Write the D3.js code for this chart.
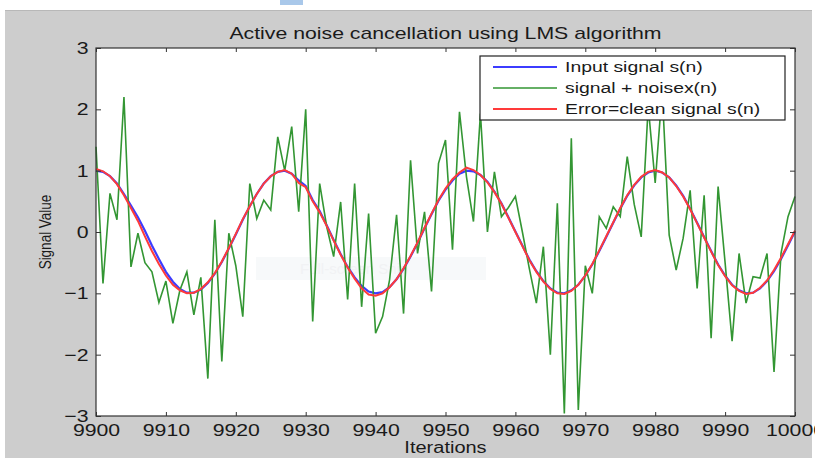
<!DOCTYPE html>
<html lang="en">
<head>
<meta charset="UTF-8">
<title>Active noise cancellation using LMS algorithm</title>
<script src="https://d3js.org/d3.v7.min.js"></script>
<style>
    body { margin: 0; background: #fff; }
    svg text { font-family: "Liberation Sans", Arial, sans-serif; fill: #1a1a1a; }
    .axis path { display: none; }
    .axis line { stroke: #333; }
</style>
</head>
<body>
<svg id="chart" width="815" height="458"></svg>
<script>
// data (one sample per iteration, 9900..10000)
var iterStart = 9900
var xTicks = [9900, 9910, 9920, 9930, 9940, 9950, 9960, 9970, 9980, 9990, 10000]
var yTicks = [-3, -2, -1, 0, 1, 2, 3]
var seriesNames = ['Input signal s(n)', 'signal + noisex(n)', 'Error=clean signal s(n)']

var inputSignal = [1.00, 0.98, 0.91, 0.79, 0.62, 0.43, 0.24, 0.02, -0.22, -0.44,
    -0.65, -0.81, -0.93, -0.99, -0.99, -0.94, -0.83, -0.68, -0.49, -0.27,
    -0.04, 0.20, 0.42, 0.62, 0.79, 0.91, 0.98, 1.00, 0.95, 0.84,
    0.75, 0.52, 0.34, 0.11, -0.13, -0.36, -0.57, -0.74, -0.88, -0.97,
    -1.00, -0.98, -0.90, -0.77, -0.60, -0.40, -0.18, 0.06, 0.29, 0.51,
    0.69, 0.84, 0.95, 1.00, 0.99, 0.93, 0.82, 0.66, 0.47, 0.24,
    0.01, -0.22, -0.45, -0.64, -0.80, -0.92, -0.99, -1.00, -0.95, -0.86,
    -0.71, -0.53, -0.31, -0.08, 0.15, 0.38, 0.59, 0.76, 0.89, 0.97,
    1.00, 0.97, 0.89, 0.76, 0.59, 0.38, 0.15, -0.08, -0.31, -0.53,
    -0.71, -0.86, -0.95, -1.00, -0.99, -0.92, -0.80, -0.64, -0.44, -0.22,
    0.01]

var noisySignal = [1.39, -0.84, 0.63, 0.20, 2.20, -0.57, -0.02, -0.50, -0.65, -1.15,
    -0.80, -1.49, -0.95, -0.65, -1.35, -0.74, -2.39, 0.20, -2.11, -0.02,
    -0.55, -1.38, 0.79, 0.22, 0.52, 0.36, 1.55, 1.00, 1.72, 0.33,
    2.00, -1.46, 0.79, 0.09, -0.40, 0.49, -1.10, 0.79, -1.22, 0.30,
    -1.65, -1.38, -0.78, 0.28, -1.33, 1.17, -0.35, 0.33, -0.97, 1.12,
    1.50, -0.29, 1.96, 0.90, 0.17, 1.93, 0.00, 0.98, 0.25, 0.40,
    0.58, 0.00, -0.60, -1.16, -0.24, -2.00, 0.47, -2.96, 1.53, -2.90,
    -0.55, -1.00, 0.25, 0.06, 0.41, 0.25, 1.23, 0.45, -0.08, 2.05,
    0.80, 2.30, -0.05, -0.62, -0.10, 0.68, -0.92, 0.60, -1.73, 0.74,
    -0.50, -1.78, -0.35, -1.16, -0.73, -0.75, -0.35, -2.28, -0.35, 0.25,
    0.58]

var errorSignal = [1.03, 0.99, 0.91, 0.78, 0.60, 0.39, 0.18, -0.07, -0.31, -0.52,
    -0.71, -0.86, -0.95, -1.00, -0.99, -0.93, -0.82, -0.67, -0.48, -0.26,
    -0.03, 0.21, 0.42, 0.62, 0.79, 0.91, 0.98, 1.01, 0.95, 0.80,
    0.73, 0.50, 0.32, 0.10, -0.14, -0.37, -0.58, -0.76, -0.92, -1.02,
    -1.04, -1.00, -0.90, -0.77, -0.59, -0.39, -0.17, 0.07, 0.30, 0.52,
    0.71, 0.86, 0.97, 1.05, 1.01, 0.93, 0.81, 0.65, 0.46, 0.23,
    0.00, -0.23, -0.46, -0.65, -0.81, -0.93, -1.00, -1.01, -0.96, -0.86,
    -0.71, -0.52, -0.30, -0.07, 0.16, 0.39, 0.60, 0.77, 0.90, 0.98,
    1.01, 0.97, 0.89, 0.75, 0.58, 0.37, 0.14, -0.09, -0.32, -0.54,
    -0.72, -0.87, -0.96, -1.01, -0.99, -0.91, -0.79, -0.62, -0.42, -0.20,
    0.02]

const W = 815, H = 458
const plot = { left: 96, right: 795, top: 48, bottom: 416 }
const sx = 1.25   // the screenshot is stretched sideways

const svg = d3.select('#chart')

// window / figure background
svg.append('rect').attr('x', 0).attr('y', 0).attr('width', W).attr('height', H).attr('fill', '#ffffff')
svg.append('rect').attr('x', 5).attr('y', 10).attr('width', 807).attr('height', 448).attr('fill', '#cdcdcd')
svg.append('rect').attr('x', 280).attr('y', 0).attr('width', 23).attr('height', 5).attr('fill', '#a9c8ea')
svg.append('line').attr('x1', 5).attr('x2', 812).attr('y1', 10.5).attr('y2', 10.5).attr('stroke', '#b8b8b8')

const x = d3.scaleLinear().domain([9900, 10000]).range([plot.left, plot.right])
const y = d3.scaleLinear().domain([-3, 3]).range([plot.bottom, plot.top])

// axes area
svg.append('rect')
    .attr('x', plot.left).attr('y', plot.top)
    .attr('width', plot.right - plot.left).attr('height', plot.bottom - plot.top)
    .attr('fill', '#ffffff')

// faint snip watermark in the middle of the axes
svg.append('rect').attr('x', 256).attr('y', 257).attr('width', 230).attr('height', 23).attr('fill', '#f7f9fa')
svg.append('text').attr('x', 300).attr('y', 274).attr('font-size', 15).style('fill', '#f1f2f4').text('Full-screen Snip')

// lines
const line = d3.line()
    .x((d, i) => x(iterStart + i))
    .y(d => y(d))

svg.append('path').datum(inputSignal).attr('d', line)
    .attr('fill', 'none').attr('stroke', '#3c3cff').attr('stroke-width', 2.2)
svg.append('path').datum(noisySignal).attr('d', line)
    .attr('fill', 'none').attr('stroke', '#339633').attr('stroke-width', 1.6)
svg.append('path').datum(errorSignal).attr('d', line)
    .attr('fill', 'none').attr('stroke', '#ff3a3a').attr('stroke-width', 2)

// ticks, inward on all four sides
svg.append('g').attr('class', 'axis')
    .attr('transform', `translate(0,${plot.bottom})`)
    .call(d3.axisBottom(x).tickValues(xTicks).tickSize(-4).tickPadding(8).tickFormat(d3.format('d')))
    .selectAll('text')
    .attr('font-size', 17)
    .attr('font-family', null)
    .attr('transform', `scale(${sx},1)`)

svg.append('g').attr('class', 'axis')
    .attr('transform', `translate(0,${plot.top})`)
    .call(d3.axisTop(x).tickValues(xTicks).tickSize(-4).tickFormat(''))

svg.append('g').attr('class', 'axis')
    .attr('transform', `translate(${plot.left},0)`)
    .call(d3.axisLeft(y).tickValues(yTicks).tickSize(-5).tickPadding(6).tickFormat(d3.format('d')))
    .selectAll('text')
    .attr('font-size', 17)
    .attr('font-family', null)
    .attr('transform', `scale(${sx},1)`)

svg.append('g').attr('class', 'axis')
    .attr('transform', `translate(${plot.right},0)`)
    .call(d3.axisRight(y).tickValues(yTicks).tickSize(-5).tickFormat(''))

// box
svg.append('rect')
    .attr('x', plot.left).attr('y', plot.top)
    .attr('width', plot.right - plot.left).attr('height', plot.bottom - plot.top)
    .attr('fill', 'none').attr('stroke', '#333').attr('stroke-width', 1.2)

// title and labels
svg.append('text')
    .attr('transform', `translate(${(plot.left + plot.right) / 2},39) scale(${sx},1)`)
    .attr('text-anchor', 'middle').attr('font-size', 17)
    .text('Active noise cancellation using LMS algorithm')

svg.append('text')
    .attr('transform', `translate(${(plot.left + plot.right) / 2},453) scale(${sx},1)`)
    .attr('text-anchor', 'middle').attr('font-size', 16)
    .text('Iterations')

svg.append('text')
    .attr('transform', `translate(51,${y(0)}) scale(${sx},1) rotate(-90)`)
    .attr('text-anchor', 'middle').attr('font-size', 13.5)
    .text('Signal Value')

// legend
const legend = svg.append('g')
legend.append('rect')
    .attr('x', 480).attr('y', 56).attr('width', 305).attr('height', 64)
    .attr('fill', '#ffffff').attr('stroke', '#222').attr('stroke-width', 1.2)

const legendColors = ['#3c3cff', '#339633', '#ff3a3a']
const legendWidths = [2.2, 1.6, 2]
seriesNames.forEach(function(name, i) {
    var ly = 67 + i * 21
    legend.append('line')
        .attr('x1', 493).attr('x2', 557).attr('y1', ly).attr('y2', ly)
        .attr('stroke', legendColors[i]).attr('stroke-width', legendWidths[i])
    legend.append('text')
        .attr('transform', `translate(565,${ly + 5}) scale(${sx},1)`)
        .attr('font-size', 15.5)
        .text(name)
})
</script>
</body>
</html>
